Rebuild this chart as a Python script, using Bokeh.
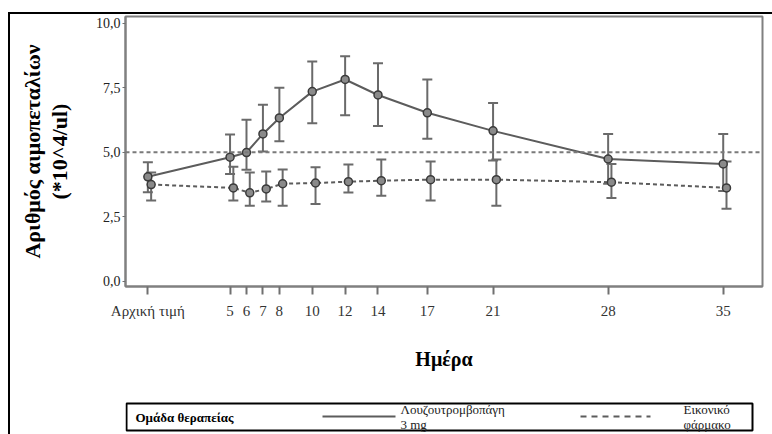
from bokeh.plotting import figure
from bokeh.layouts import column
from bokeh.models import (ColumnDataSource, Whisker, Span, FixedTicker, Label,
                          Range1d, TeeHead, BoxAnnotation)
from bokeh.transform import dodge
from bokeh.embed import file_html
from bokeh.resources import INLINE

# ---------------- data ----------------
days = [0, 5, 6, 7, 8, 10, 12, 14, 17, 21, 28, 35]
x_tick_labels = ["Αρχική τιμή", "5", "6", "7", "8", "10", "12", "14", "17", "21", "28", "35"]
y_ticks = [0, 2.5, 5, 7.5, 10]
y_tick_labels = ["0,0", "2,5", "5,0", "7,5", "10,0"]

luso_mean = [4.05, 4.81, 4.99, 5.71, 6.33, 7.35, 7.82, 7.22, 6.53, 5.83, 4.74, 4.55]
luso_upper = [4.61, 5.69, 6.26, 6.84, 7.50, 8.52, 8.72, 8.45, 7.82, 6.91, 5.71, 5.71]
luso_lower = [3.45, 4.16, 4.32, 5.03, 5.43, 6.12, 6.43, 6.02, 5.52, 4.68, 3.78, 3.50]

plac_mean = [3.75, 3.62, 3.43, 3.58, 3.78, 3.81, 3.86, 3.90, 3.94, 3.94, 3.84, 3.62]
plac_upper = [4.22, 4.44, 4.22, 4.26, 4.33, 4.42, 4.53, 4.72, 4.64, 4.72, 4.55, 4.64]
plac_lower = [3.13, 3.13, 2.93, 3.09, 2.93, 3.00, 3.44, 3.32, 3.13, 2.93, 3.23, 2.81]

series_names = ["Λουζουτρομβοπάγη\n3 mg", "Εικονικό\nφάρμακο"]
legend_title = "Ομάδα θεραπείας"
x_title = "Ημέρα"
y_title = "Αριθμός αιμοπεταλίων\n(*10^4/ul)"
reference_level = 5.0

# ---------------- main figure ----------------
SERIF = "Liberation Serif"
LINE = "#5c5c5c"
ERR = "#6a6a6a"
DASH = "4 3"

src = ColumnDataSource(dict(day=days, luso_mean=luso_mean, luso_upper=luso_upper,
                            luso_lower=luso_lower, plac_mean=plac_mean,
                            plac_upper=plac_upper, plac_lower=plac_lower))

p = figure(width=762, height=381, output_backend="svg", toolbar_location=None,
           x_range=Range1d(-1.36, 37.39), y_range=Range1d(-0.2, 10.26),
           min_border_left=115, min_border_right=1, min_border_top=2,
           min_border_bottom=109)

p.xgrid.visible = False
p.ygrid.visible = False
p.outline_line_color = "#808080"
p.outline_line_width = 2

xa = p.xaxis[0]
xa.ticker = FixedTicker(ticks=days)
xa.major_label_overrides = {d: s for d, s in zip(days, x_tick_labels)}
xa.minor_tick_line_color = None
xa.major_tick_out = 8
xa.major_tick_in = 0
xa.major_tick_line_color = "#707070"
xa.major_tick_line_width = 2
xa.axis_line_color = "#808080"
xa.axis_line_width = 2
xa.major_label_text_font = SERIF
xa.major_label_text_font_size = "15px"
xa.major_label_text_color = "#333333"
xa.major_label_standoff = 8
xa.axis_label = x_title
xa.axis_label_text_font = SERIF
xa.axis_label_text_font_size = "20px"
xa.axis_label_text_font_style = "bold"
xa.axis_label_text_color = "black"
xa.axis_label_standoff = 26

ya = p.yaxis[0]
ya.ticker = FixedTicker(ticks=y_ticks)
ya.major_label_overrides = {t: s for t, s in zip(y_ticks, y_tick_labels)}
ya.minor_tick_line_color = None
ya.major_tick_out = 3
ya.major_tick_in = 0
ya.major_tick_line_color = "#707070"
ya.axis_line_color = "#808080"
ya.axis_line_width = 2
ya.major_label_text_font = SERIF
ya.major_label_text_font_size = "14px"
ya.major_label_text_color = "#222222"
ya.major_label_standoff = 2
ya.axis_label = y_title
ya.axis_label_text_font = SERIF
ya.axis_label_text_font_size = "22px"
ya.axis_label_text_font_style = "bold"
ya.axis_label_text_color = "black"
ya.axis_label_text_line_height = 1.08
ya.axis_label_standoff = 21

p.add_layout(Span(location=reference_level, dimension="width", line_color="#7a7a7a",
                  line_width=2, line_dash=DASH))

for base, up, lo in [("day", "luso_upper", "luso_lower"),
                     (dodge("day", 0.2), "plac_upper", "plac_lower")]:
    p.add_layout(Whisker(base=base, upper=up, lower=lo, source=src, dimension="height",
                         line_color=ERR, line_width=2,
                         upper_head=TeeHead(size=10, line_color=ERR, line_width=2),
                         lower_head=TeeHead(size=10, line_color=ERR, line_width=2)))

p.line(x="day", y="luso_mean", source=src, line_color=LINE, line_width=2)
p.line(x=dodge("day", 0.2), y="plac_mean", source=src, line_color=LINE,
       line_width=2, line_dash=DASH)
p.scatter(x="day", y="luso_mean", source=src, marker="circle", size=8,
          fill_color="#8a8a8a", line_color="#3a3a3a", line_width=1.5)
p.scatter(x=dodge("day", 0.2), y="plac_mean", source=src, marker="circle", size=8,
          fill_color="#8a8a8a", line_color="#3a3a3a", line_width=1.5)

# ---------------- legend box (own small figure, 1 unit = 1 px) ----------------
q = figure(width=762, height=39, output_backend="svg", toolbar_location=None,
           x_range=Range1d(0, 637), y_range=Range1d(0, 39),
           min_border_left=115, min_border_right=10, min_border_top=0,
           min_border_bottom=0)
q.axis.visible = False
q.grid.visible = False
q.outline_line_color = None

q.add_layout(BoxAnnotation(left=1, right=627, bottom=4, top=31, fill_alpha=0,
                           line_color="black", line_width=2, line_alpha=1))
q.add_layout(Label(x=10, y=17, text=legend_title, text_font=SERIF,
                   text_font_size="13px", text_font_style="bold",
                   text_baseline="middle", text_color="black"))
q.line(x=[197, 270], y=[18, 18], line_color=LINE, line_width=2)
q.line(x=[455, 525], y=[18, 18], line_color=LINE, line_width=2, line_dash="6 5")
for lx, name in [(275, series_names[0]), (558, series_names[1])]:
    q.add_layout(Label(x=lx, y=17.5, text=name, text_font=SERIF,
                       text_font_size="13px", text_baseline="middle",
                       text_line_height=1.05, text_color="#222222"))

layout = column(p, q, spacing=0)
layout.styles = {"margin-left": "8px", "margin-top": "12px",
                 "border-top": "2px solid black", "border-left": "2px solid black"}

open("out.html", "w").write(file_html(layout, INLINE))
